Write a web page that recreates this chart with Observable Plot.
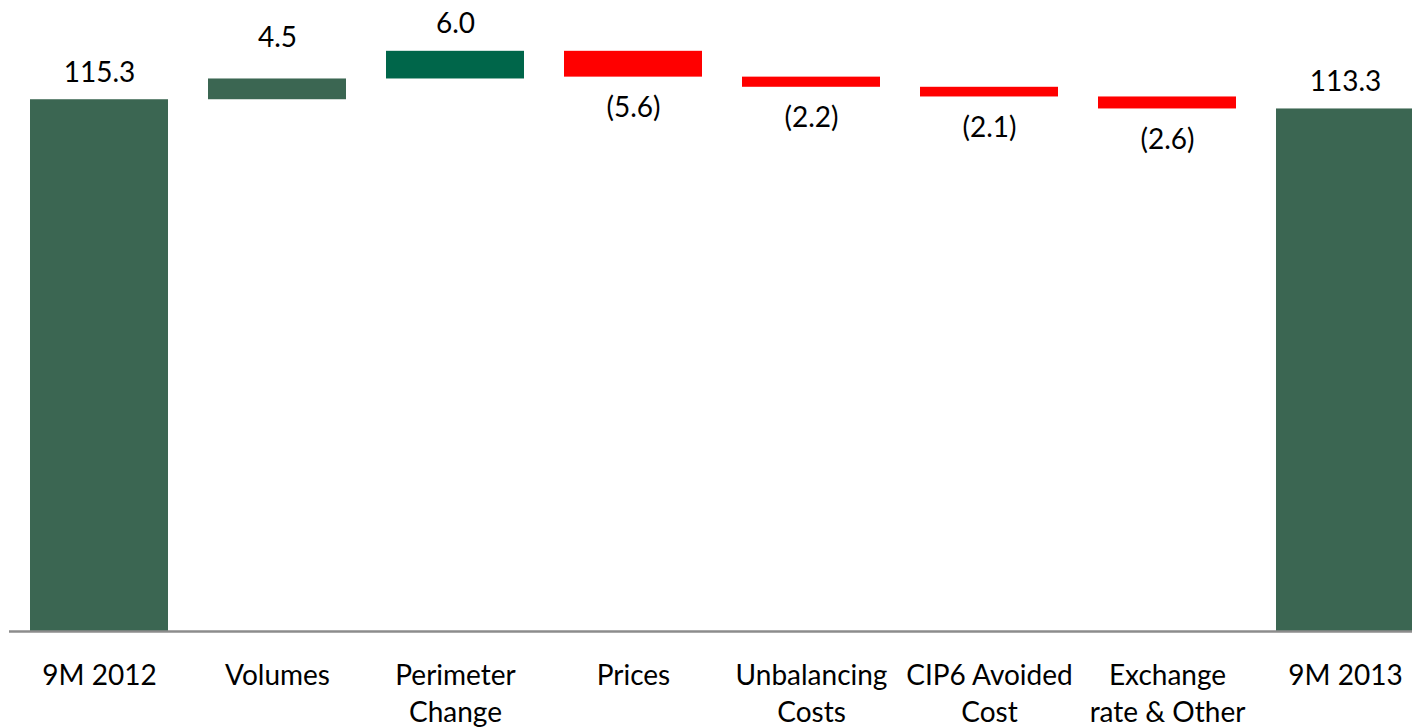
<!DOCTYPE html>
<html>
<head>
<meta charset="utf-8">
<script src="https://cdn.jsdelivr.net/npm/d3@7"></script>
<script src="https://cdn.jsdelivr.net/npm/@observablehq/plot@0.6"></script>
<style>
  html, body { margin: 0; padding: 0; background: #fff; overflow: hidden; }
  #chart svg { display: block; }
</style>
</head>
<body>
<div id="chart"></div>
<script>
// ---- data ----
const categories = ["9M 2012", "Volumes", "Perimeter\nChange", "Prices", "Unbalancing\nCosts", "CIP6 Avoided\nCost", "Exchange\nrate & Other", "9M 2013"];
const values = [115.3, 4.5, 6.0, -5.6, -2.2, -2.1, -2.6, 113.3];
const kinds = ["total", "delta", "delta", "delta", "delta", "delta", "delta", "total"];
const valueLabels = ["115.3", "4.5", "6.0", "(5.6)", "(2.2)", "(2.1)", "(2.6)", "113.3"];

// ---- build waterfall table ----
let running = 0;
const rows = categories.map((c, i) => {
  let y1, y2;
  if (kinds[i] === "total") { y1 = 0; y2 = values[i]; running = values[i]; }
  else { y1 = running; y2 = running + values[i]; running = y2; }
  return { category: c, value: values[i], kind: kinds[i], y1, y2, top: Math.max(y1, y2), bottom: Math.min(y1, y2), label: valueLabels[i] };
});

const fillFor = d => d.kind === "total" ? "#3b6652"
  : d.category === "Volumes" ? "#3b6652"
  : d.value > 0 ? "#00664a" : "#ff0000";

const posMain = rows.filter(d => d.value > 0 && d.category !== "Volumes");
const posVol = rows.filter(d => d.category === "Volumes");
const neg = rows.filter(d => d.value < 0);

const W = 1412, H = 727;
const chart = Plot.plot({
  width: W,
  height: H,
  marginLeft: 9,
  marginRight: 0,
  marginTop: 0,
  marginBottom: 96,
  style: { fontFamily: "Lato, 'Open Sans', sans-serif", background: "#fff" },
  x: { domain: categories, range: [9, 1435], paddingInner: 0.226, paddingOuter: 0.113, label: null },
  y: { domain: [0, 130], range: [631, 631 - 130 * 4.612], axis: null },
  marks: [
    Plot.barY(rows, { x: "category", y1: "y1", y2: "y2", fill: fillFor }),
    Plot.ruleY([0], { stroke: "#8c8c8c", strokeWidth: 2.5 }),
    Plot.axisX({ tickSize: 0, tickPadding: 28, fontSize: 28, lineHeight: 1.3, fill: "#000", label: null }),
    Plot.text(posMain, { x: "category", y: "top", text: "label", fontSize: 28, fill: "#000", dy: -27 }),
    Plot.text(posVol, { x: "category", y: "top", text: "label", fontSize: 28, fill: "#000", dy: -41 }),
    Plot.text(neg, { x: "category", y: "bottom", text: "label", fontSize: 28, fill: "#000", dy: 31 })
  ]
});
document.getElementById("chart").appendChild(chart);
</script>
</body>
</html>
